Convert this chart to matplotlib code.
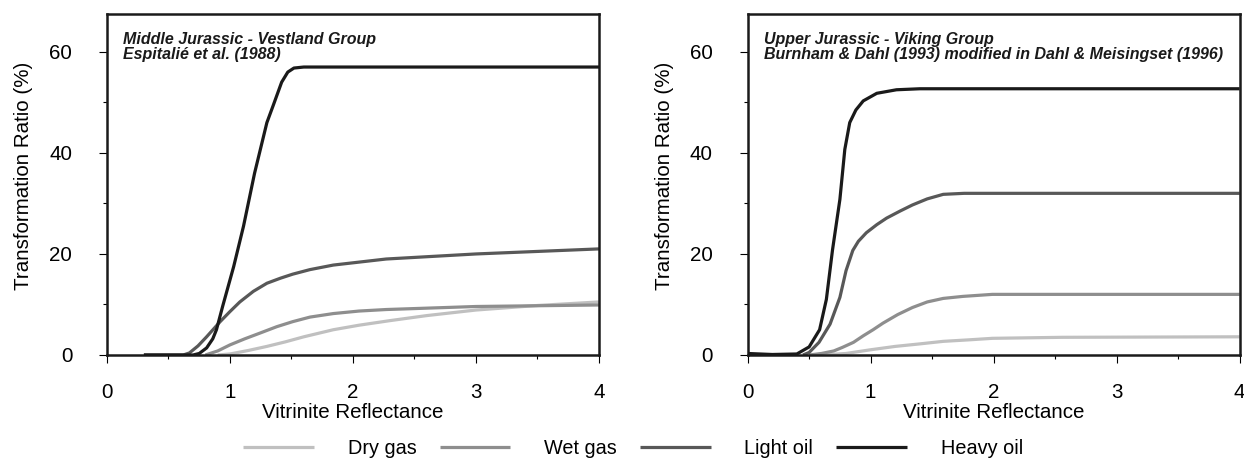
import matplotlib
matplotlib.use("Agg")
import matplotlib.pyplot as plt
from matplotlib.ticker import MultipleLocator

plt.rcParams['font.family'] = ['Liberation Sans', 'DejaVu Sans']

# Middle Jurassic - Vestland Group (left panel)
dry_left_x = [0.9, 1.0, 1.15, 1.3, 1.45, 1.6, 1.84, 2.05, 2.3, 2.6, 3.0, 3.5, 4.0]
dry_left_y = [0, 0.2, 0.9, 1.7, 2.6, 3.6, 5.0, 5.9, 6.8, 7.8, 8.9, 9.8, 10.5]
wet_left_x = [0.8, 0.9, 1.0, 1.12, 1.24, 1.38, 1.51, 1.65, 1.84, 2.05, 2.27, 3.0, 4.0]
wet_left_y = [0, 0.8, 2.0, 3.2, 4.3, 5.6, 6.6, 7.5, 8.2, 8.7, 9.0, 9.6, 9.9]
light_left_x = [0.3, 0.62, 0.67, 0.74, 0.81, 0.92, 1.0, 1.08, 1.19, 1.3, 1.41, 1.51,
                1.65, 1.84, 2.27, 3.0, 4.0]
light_left_y = [0, 0, 0.4, 1.8, 3.6, 6.6, 8.6, 10.5, 12.6, 14.2, 15.2, 16.0,
                16.9, 17.8, 19.0, 20.0, 21.0]
heavy_left_x = [0.3, 0.5, 0.7, 0.75, 0.81, 0.86, 0.89, 0.94, 1.03, 1.11, 1.2, 1.3,
                1.35, 1.42, 1.47, 1.52, 1.6, 2.0, 3.0, 4.0]
heavy_left_y = [0, 0, 0, 0.3, 1.4, 3.2, 5.0, 9.6, 17.5, 25.5, 36.0, 46.0,
                49.3, 54.0, 56.0, 56.8, 57.0, 57.0, 57.0, 57.0]

# Upper Jurassic - Viking Group (right panel)
dry_right_x = [0.6, 0.8, 0.99, 1.2, 1.4, 1.59, 1.8, 1.99, 2.56, 4.0]
dry_right_y = [0, 0.3, 1.0, 1.7, 2.2, 2.7, 3.0, 3.3, 3.5, 3.6]
wet_right_x = [0.5, 0.6, 0.7, 0.77, 0.86, 0.94, 1.02, 1.1, 1.22, 1.34, 1.46, 1.59,
               1.75, 1.99, 4.0]
wet_right_y = [0, 0.3, 0.8, 1.5, 2.5, 3.8, 5.0, 6.3, 8.0, 9.4, 10.5, 11.2,
               11.6, 12.0, 12.0]
light_right_x = [0.45, 0.5, 0.58, 0.67, 0.75, 0.8, 0.855, 0.9, 0.965, 1.05, 1.13,
                 1.24, 1.34, 1.46, 1.59, 1.76, 2.5, 4.0]
light_right_y = [0, 0.5, 2.5, 6.1, 11.4, 16.7, 20.7, 22.5, 24.2, 25.8, 27.1,
                 28.5, 29.7, 30.9, 31.8, 32.0, 32.0, 32.0]
heavy_right_x = [0, 0.2, 0.4, 0.5, 0.585, 0.64, 0.69, 0.75, 0.79, 0.83, 0.88, 0.94,
                 1.05, 1.21, 1.4, 2.0, 3.0, 4.0]
heavy_right_y = [0.3, 0.1, 0.2, 1.6, 5.0, 11.0, 20.8, 30.8, 40.7, 46.0, 48.5, 50.3,
                 51.8, 52.5, 52.7, 52.7, 52.7, 52.7]

labels = ['Dry gas', 'Wet gas', 'Light oil', 'Heavy oil']
colors = ['#c0c0c0', '#8e8e8e', '#585858', '#1a1a1a']

titles = ['Middle Jurassic - Vestland Group\nEspitalié et al. (1988)',
          'Upper Jurassic - Viking Group\nBurnham & Dahl (1993) modified in Dahl & Meisingset (1996)']

panels = [
    [(dry_left_x, dry_left_y), (wet_left_x, wet_left_y),
     (light_left_x, light_left_y), (heavy_left_x, heavy_left_y)],
    [(dry_right_x, dry_right_y), (wet_right_x, wet_right_y),
     (light_right_x, light_right_y), (heavy_right_x, heavy_right_y)],
]

fig = plt.figure(figsize=(12.44, 4.71), dpi=100)
ax_left = fig.add_axes([0.086, 0.2463, 0.3955, 0.724])
ax_right = fig.add_axes([0.601, 0.2463, 0.3955, 0.724])

lines = []
for ax, series, title in zip([ax_left, ax_right], panels, titles):
    lines = []
    for (x, y), lab, col in zip(series, labels, colors):
        ln, = ax.plot(x, y, color=col, lw=2.3, label=lab, solid_capstyle='butt')
        lines.append(ln)
    ax.set_xlim(0, 4)
    ax.set_ylim(0, 67.5)
    ax.xaxis.set_major_locator(MultipleLocator(1))
    ax.xaxis.set_minor_locator(MultipleLocator(0.5))
    ax.yaxis.set_major_locator(MultipleLocator(20))
    ax.yaxis.set_minor_locator(MultipleLocator(10))
    ax.tick_params(which='major', length=6, width=0.8, labelsize=14.8)
    ax.tick_params(which='minor', length=3, width=0.8)
    ax.tick_params(axis='x', which='major', pad=14)
    ax.tick_params(axis='y', which='major', pad=19)
    for sp in ax.spines.values():
        sp.set_linewidth(1.8)
        sp.set_color('#1a1a1a')
    ax.set_xlabel('Vitrinite Reflectance', fontsize=14.8)
    ax.set_ylabel('Transformation Ratio (%)', fontsize=14.8)
    ax.xaxis.set_label_coords(0.5, -0.14)
    ax.yaxis.set_label_coords(-0.15, 0.525)
    ax.text(0.033, 0.948, title, transform=ax.transAxes, fontsize=11.5,
            fontweight='bold', fontstyle='italic', va='top', ha='left',
            color='#1a1a1a', linespacing=1.0)

fig.legend(handles=lines, labels=labels, loc='center', ncol=4,
           bbox_to_anchor=(0.509, 0.047), frameon=False, fontsize=14.3,
           handlelength=3.57, handletextpad=1.7, columnspacing=1.15)

fig.savefig('out.png', dpi=100)
